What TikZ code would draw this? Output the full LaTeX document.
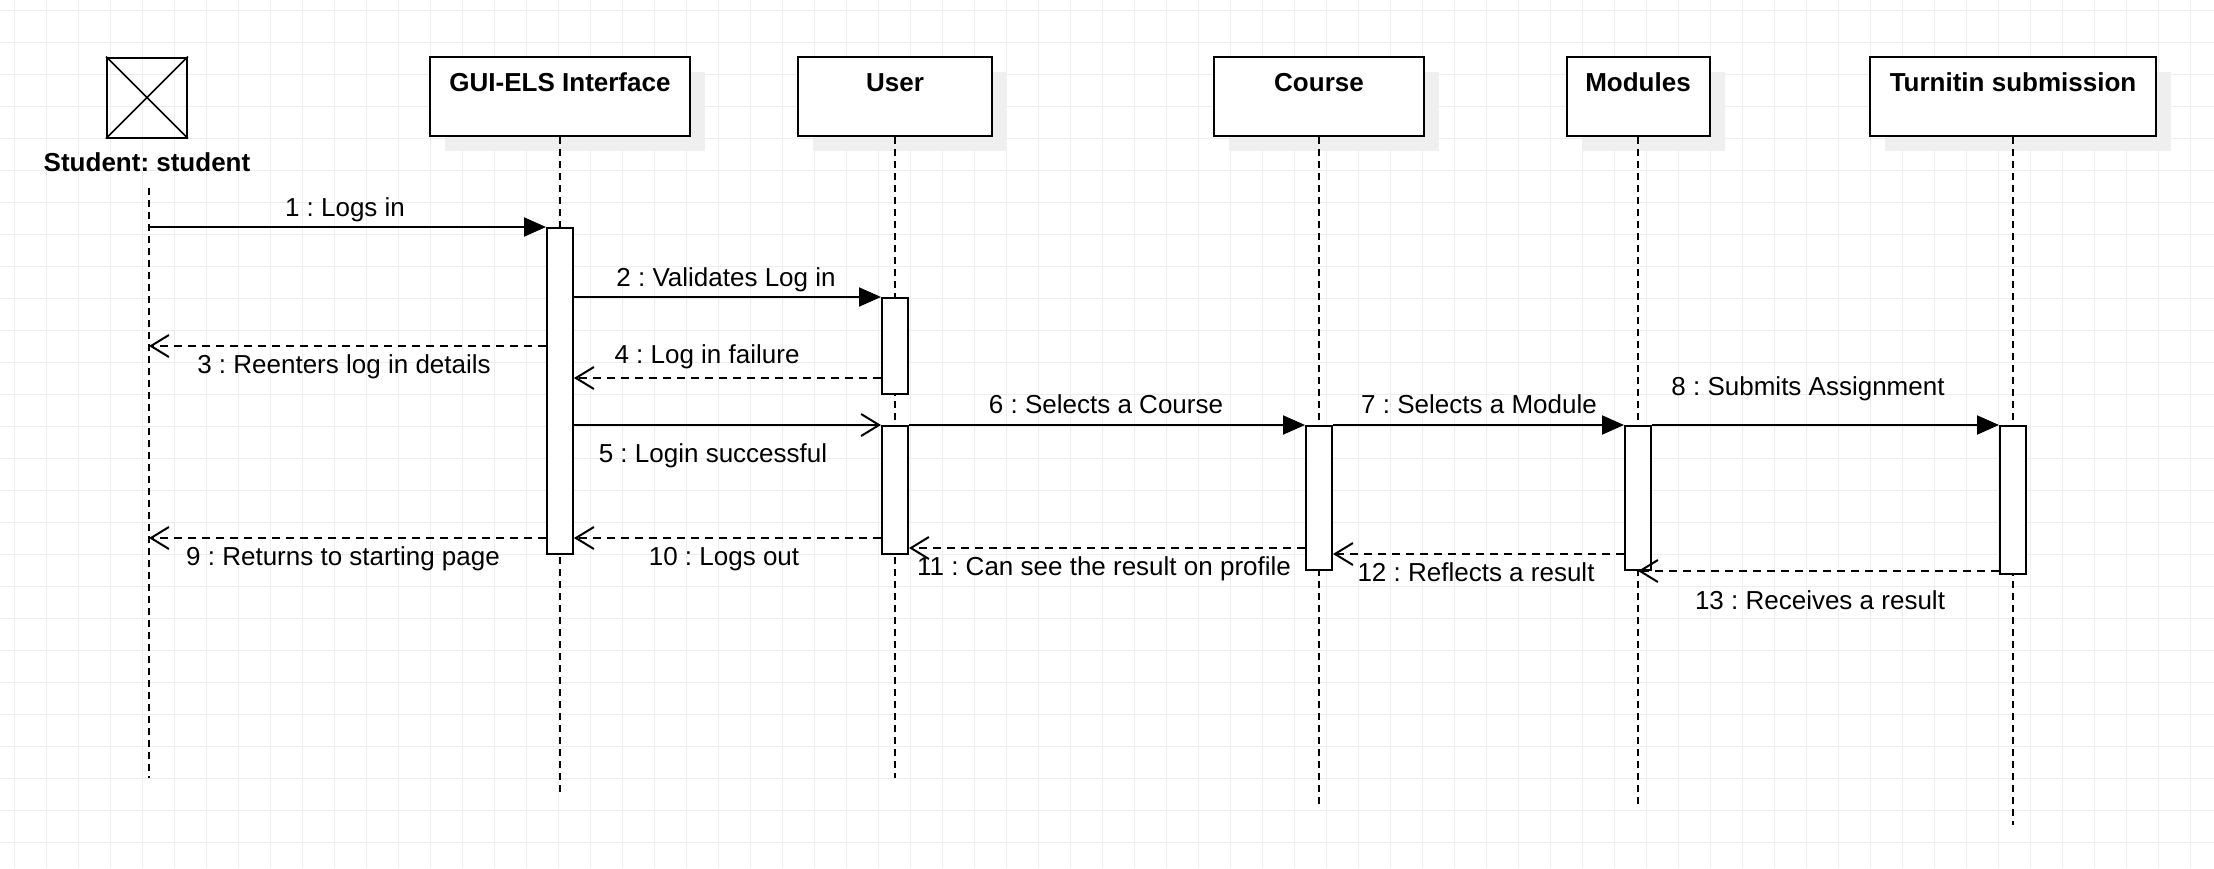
\documentclass[tikz,border=0pt]{standalone}
\usepackage{fontspec}
\setmainfont{Liberation Sans}
\usetikzlibrary{arrows.meta,shadows,calc}
\definecolor{gridc}{HTML}{EDEDED}
\definecolor{shadowc}{HTML}{EFEFEF}
\frenchspacing
\begin{document}
\begin{tikzpicture}[x=1pt,y=-1pt,
  font=\fontsize{26}{30}\selectfont\frenchspacing,
  lbox/.style={draw=black,line width=2pt,fill=white,inner sep=0pt,
    drop shadow={shadow xshift=15pt,shadow yshift=-15pt,fill=shadowc,opacity=1}},
  ttl/.style={font=\fontsize{26}{30}\selectfont\bfseries\frenchspacing,anchor=base,inner sep=0pt},
  lifeline/.style={line width=1.8pt,dash pattern=on 7pt off 5pt},
  act/.style={draw=black,line width=2pt,fill=white,minimum width=26pt,inner sep=0pt},
  msg/.style={line width=2pt,-{Triangle[length=22pt,width=19pt]}},
  asyn/.style={line width=2pt,-{Straight Barb[length=18pt,width=22pt,line width=2pt]}},
  ret/.style={line width=2pt,dash pattern=on 8pt off 6pt,-{Straight Barb[length=18pt,width=22pt,line width=2pt]}},
  lbl/.style={anchor=base,inner sep=0pt}]
\useasboundingbox (0,0) rectangle (2214,868);
\fill[white] (0,0) rectangle (2214,868);
\foreach \gx in {14,46,...,2214} \draw[gridc,line width=1pt] (\gx,0) -- (\gx,868);
\foreach \gy in {10,42,...,868} \draw[gridc,line width=1pt] (0,\gy) -- (2214,\gy);

% actor
\node[draw=black,line width=2pt,minimum width=80pt,minimum height=80pt,inner sep=0pt] (stu) at (147,97.5) {};
\draw[line width=1.5pt] (stu.north west) -- (stu.south east) (stu.north east) -- (stu.south west);
\node[ttl] (stuT) at (147,171) {Student: student};

% lifeline boxes
\node[lbox,minimum width=260pt,minimum height=79pt] (gui) at (560,96.5) {};
\node[ttl] (guiT) at (560,91) {GUI-ELS Interface};
\node[lbox,minimum width=194pt,minimum height=79pt] (usr) at (895,96.5) {};
\node[ttl] (usrT) at (895,91) {User};
\node[lbox,minimum width=210pt,minimum height=79pt] (crs) at (1319,96.5) {};
\node[ttl] (crsT) at (1319,91) {Course};
\node[lbox,minimum width=143pt,minimum height=79pt] (mod) at (1638,96.5) {};
\node[ttl] (modT) at (1638,91) {Modules};
\node[lbox,minimum width=286pt,minimum height=79pt] (tur) at (2013,96.5) {};
\node[ttl] (turT) at (2013,91) {Turnitin submission};

% lifelines
\coordinate (stuTop) at (149,188);
\coordinate (stuEnd) at (149,778);
\coordinate (guiEnd) at (560,792);
\coordinate (usrEnd) at (895,778);
\coordinate (crsEnd) at (1319,804);
\coordinate (modEnd) at (1638,804);
\coordinate (turEnd) at (2013,825);
\draw[lifeline] (stuTop) -- (stuEnd);
\draw[lifeline] (gui.south) -- (guiEnd);
\draw[lifeline] (usr.south) -- (usrEnd);
\draw[lifeline] (crs.south) -- (crsEnd);
\draw[lifeline] (mod.south) -- (modEnd);
\draw[lifeline] (tur.south) -- (turEnd);

% activations
\node[act,minimum height=326pt] (guiA) at (560,391) {};
\node[act,minimum height=96pt] (uA1) at (895,346) {};
\node[act,minimum height=128pt] (uA2) at (895,490) {};
\node[act,minimum height=144pt] (cA) at (1319,498) {};
\node[act,minimum height=144pt] (mA) at (1638,498) {};
\node[act,minimum height=148pt] (tA) at (2013,500) {};

% messages
\draw[msg] (stuTop |- guiA.north west) -- (guiA.north west);
\draw[msg] (guiA.east |- uA1.north) -- (uA1.north west);
\draw[ret] (guiA.west |- 0,346) -- (stuTop |- 0,346);
\draw[ret] (uA1.west |- 0,378) -- (guiA.east |- 0,378);
\draw[asyn] (guiA.east |- uA2.north) -- (uA2.north west);
\draw[msg] (uA2.north east) -- (cA.north west);
\draw[msg] (cA.north east) -- (mA.north west);
\draw[msg] (mA.north east) -- (tA.north west);
\draw[ret] (guiA.west |- 0,538) -- (stuTop |- 0,538);
\draw[ret] (uA2.west |- 0,538) -- (guiA.east |- 0,538);
\draw[ret] (cA.west |- 0,548) -- (uA2.east |- 0,548);
\draw[ret] (mA.west |- 0,554) -- (cA.east |- 0,554);
\draw[ret] (tA.west |- mA.south) -- (mA.south);

% labels
\node[lbl] (l1) at (345,216) {1 : Logs in};
\node[lbl] (l2) at (726,286) {2 : Validates Log in};
\node[lbl] (l3) at (344,373) {3 : Reenters log in details};
\node[lbl] (l4) at (707,363) {4 : Log in failure};
\node[lbl] (l5) at (713,462) {5 : Login successful};
\node[lbl] (l6) at (1106,413) {6 : Selects a Course};
\node[lbl] (l7) at (1479,413) {7 : Selects a Module};
\node[lbl] (l8) at (1808,395) {8 : Submits Assignment};
\node[lbl] (l9) at (343,565) {9 : Returns to starting page};
\node[lbl] (l10) at (724,565) {10 : Logs out};
\node[lbl] (l11) at (1104,575) {11 : Can see the result on profile};
\node[lbl] (l12) at (1476,581) {12 : Reflects a result};
\node[lbl] (l13) at (1820,609) {13 : Receives a result};
\end{tikzpicture}
\end{document}
